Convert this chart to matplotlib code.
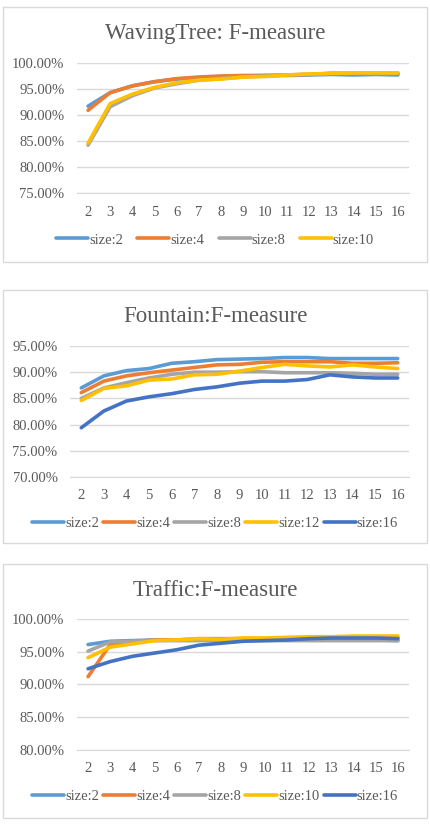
import numpy as np
import matplotlib
matplotlib.use("Agg")
import matplotlib.pyplot as plt
from matplotlib.patches import Rectangle
from matplotlib.ticker import FuncFormatter

# Data
blocks = list(range(2, 17))

tree_labels = ["size:2", "size:4", "size:8", "size:10"]
tree_s2 = [91.7, 94.3, 95.6, 96.4, 96.9, 97.2, 97.4, 97.5, 97.6, 97.6, 97.7, 97.8, 97.7, 97.8, 97.7]
tree_s4 = [90.9, 94.3, 95.6, 96.4, 97.0, 97.3, 97.5, 97.6, 97.6, 97.7, 97.8, 98.0, 98.0, 98.0, 98.0]
tree_s8 = [84.2, 91.6, 93.7, 95.2, 96.0, 96.7, 97.0, 97.3, 97.5, 97.7, 97.8, 98.0, 98.0, 98.0, 98.0]
tree_s10 = [84.6, 92.2, 94.0, 95.3, 96.2, 96.7, 96.9, 97.3, 97.4, 97.7, 97.9, 98.0, 98.1, 98.1, 98.1]

fountain_labels = ["size:2", "size:4", "size:8", "size:12", "size:16"]
fountain_s2 = [87.0, 89.3, 90.3, 90.7, 91.7, 92.0, 92.4, 92.5, 92.6, 92.8, 92.8, 92.6, 92.6, 92.6, 92.6]
fountain_s4 = [86.1, 88.3, 89.3, 89.9, 90.4, 90.9, 91.4, 91.5, 91.9, 92.0, 92.0, 92.0, 91.7, 91.7, 91.8]
fountain_s8 = [85.0, 87.0, 88.0, 88.9, 89.6, 90.0, 90.0, 90.1, 90.1, 89.9, 89.9, 89.9, 89.8, 89.6, 89.6]
fountain_s12 = [84.6, 86.9, 87.4, 88.5, 88.7, 89.5, 89.6, 90.2, 90.9, 91.5, 91.2, 91.0, 91.4, 91.0, 90.7]
fountain_s16 = [79.4, 82.6, 84.5, 85.3, 85.9, 86.7, 87.2, 87.9, 88.3, 88.3, 88.6, 89.5, 89.1, 88.9, 88.9]

traffic_labels = ["size:2", "size:4", "size:8", "size:10", "size:16"]
traffic_s2 = [96.1, 96.6, 96.7, 96.8, 96.8, 96.8, 96.8, 96.8, 96.8, 96.8, 96.8, 96.8, 96.8, 96.8, 96.7]
traffic_s4 = [91.2, 96.1, 96.5, 96.8, 96.8, 97.0, 97.0, 97.0, 97.0, 97.1, 97.1, 97.1, 97.2, 97.2, 97.2]
traffic_s8 = [95.1, 96.5, 96.6, 96.7, 96.7, 96.7, 96.7, 96.7, 96.7, 96.7, 96.7, 96.7, 96.7, 96.7, 96.7]
traffic_s10 = [94.1, 95.7, 96.2, 96.7, 96.8, 97.0, 96.9, 97.1, 97.1, 97.2, 97.3, 97.3, 97.4, 97.4, 97.4]
traffic_s16 = [92.4, 93.5, 94.3, 94.8, 95.3, 96.0, 96.3, 96.6, 96.7, 96.8, 97.0, 97.1, 97.1, 97.1, 97.0]

colors5 = ["#5B9BD5", "#ED7D31", "#A5A5A5", "#FFC000", "#4472C4"]

W, H = 430, 825
TXT = "#595959"
plt.rcParams["font.family"] = ["Liberation Serif", "DejaVu Serif"]


def px_axes(fig, x0, y0, x1, y1):
    """Axes from pixel box (top-left origin)."""
    return fig.add_axes([x0 / W, 1 - y1 / H, (x1 - x0) / W, (y1 - y0) / H])


def panel(fig, box, area, title, title_y, series, labels, ylim, yticks, legend_y, colsp):
    bx0, by0, bx1, by1 = box
    fig.patches.append(Rectangle((bx0 / W, 1 - by1 / H), (bx1 - bx0) / W, (by1 - by0) / H,
                                 transform=fig.transFigure, fill=False,
                                 edgecolor="#D9D9D9", linewidth=1.0))
    ax = px_axes(fig, *area)
    x = np.arange(len(blocks))
    for vals, lab, col in zip(series, labels, colors5):
        ax.plot(x, vals, color=col, linewidth=2.6, label=lab, solid_capstyle="round")
    ax.set_xlim(-0.5, len(blocks) - 0.5)
    ax.set_ylim(*ylim)
    ax.set_yticks(yticks)
    ax.yaxis.set_major_formatter(FuncFormatter(lambda v, p: f"{v:.2f}%"))
    ax.set_xticks(x)
    ax.set_xticklabels([str(b) for b in blocks])
    ax.grid(axis="y", color="#D9D9D9", linewidth=1.0)
    ax.set_axisbelow(True)
    for s in ["top", "right", "left"]:
        ax.spines[s].set_visible(False)
    ax.spines["bottom"].set_color("#D9D9D9")
    ax.tick_params(length=0, colors=TXT, labelsize=10.5)
    ax.tick_params(axis="x", pad=9)
    ax.tick_params(axis="y", pad=9)
    fig.text(0.5 * (bx0 + bx1) / W, 1 - title_y / H, title, ha="center", va="center",
             fontsize=16.5, color=TXT)
    fig.legend(*ax.get_legend_handles_labels(), loc="center",
               bbox_to_anchor=(0.5 * (bx0 + bx1) / W, 1 - legend_y / H),
               ncol=len(labels), frameon=False, fontsize=10.5, handlelength=2.2,
               handletextpad=0.05, columnspacing=colsp, labelcolor=TXT)
    return ax


fig = plt.figure(figsize=(W / 100, H / 100), dpi=100)

panel(fig, (3, 7, 427, 262), (77, 63, 409, 193), "WavingTree: F-measure", 33,
      [tree_s2, tree_s4, tree_s8, tree_s10], tree_labels,
      (75, 100), [75, 80, 85, 90, 95, 100], 240, 1.0)

panel(fig, (3, 290, 427, 543), (70, 346, 409, 477), "Fountain:F-measure", 317,
      [fountain_s2, fountain_s4, fountain_s8, fountain_s12, fountain_s16], fountain_labels,
      (70, 95), [70, 75, 80, 85, 90, 95], 523, 0.3)

panel(fig, (3, 564, 427, 818), (77, 619, 409, 750), "Traffic:F-measure", 590,
      [traffic_s2, traffic_s4, traffic_s8, traffic_s10, traffic_s16], traffic_labels,
      (80, 100), [80, 85, 90, 95, 100], 796, 0.3)

fig.savefig("out.png", dpi=100)
